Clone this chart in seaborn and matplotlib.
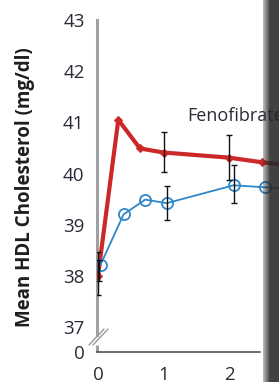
import numpy as np
import pandas as pd
import matplotlib
matplotlib.use("Agg")
import matplotlib.pyplot as plt
import seaborn as sns

# years since randomisation
feno_x = [0.0, 0.31, 0.64, 1.0, 2.0, 2.5, 3.0]
feno_y = [38.0, 41.05, 40.49, 40.41, 40.31, 40.22, 40.15]
feno_err_x = [0.0, 1.0, 2.0]
feno_err_y = [38.05, 40.42, 40.31]
feno_err = [0.42, 0.40, 0.44]

plac_x = [0.04, 0.39, 0.72, 1.05, 2.07, 2.55, 3.05]
plac_y = [38.22, 39.2, 39.49, 39.42, 39.77, 39.73, 39.70]
plac_err_x = [0.02, 1.05, 2.07]
plac_err_y = [38.1, 39.43, 39.79]
plac_err = [0.2, 0.33, 0.37]

y_ticks = [37, 38, 39, 40, 41, 42, 43]
x_ticks = [0, 1, 2]

RED = "#cc2828"
BLUE = "#2f86c9"
TXT = "#2a2a38"

sns.set_style("white")
plt.rcParams["font.family"] = ["Open Sans", "DejaVu Sans"]

W, H = 279, 382
fig = plt.figure(figsize=(W / 100, H / 100), dpi=100)

# axes: left spine at 97px, bottom at 352px
ax = fig.add_axes([97 / W, (H - 352) / H, (W - 97) / W, 342 / H])
ybot = 37 - 25 / 51.17
ax.set_ylim(ybot, 43 + 10 / 51.17)
ax.set_xlim(-1 / 65.5, (W - 98) / 65.5)

feno = pd.DataFrame({"x": feno_x, "y": feno_y})
plac = pd.DataFrame({"x": plac_x, "y": plac_y})

ax.errorbar(feno_err_x, feno_err_y, yerr=feno_err, fmt="none", ecolor="#111111",
            elinewidth=1.0, capsize=2.5, capthick=1.0, zorder=4)
ax.errorbar(plac_err_x, plac_err_y, yerr=plac_err, fmt="none", ecolor="#111111",
            elinewidth=1.0, capsize=2.5, capthick=1.0, zorder=4)

sns.lineplot(data=feno, x="x", y="y", ax=ax, color=RED, linewidth=3.0,
             marker="D", markersize=4.5, markeredgecolor=RED, zorder=3, sort=False)
sns.lineplot(data=plac, x="x", y="y", ax=ax, color=BLUE, linewidth=1.3,
             marker="o", markersize=8, markerfacecolor="none",
             markeredgecolor=BLUE, markeredgewidth=1.3, zorder=3, sort=False)

ax.text(1.37, 41.12, "Fenofibrate", fontsize=13, color=TXT, va="center", ha="left")

# spines
for s in ["top", "right"]:
    ax.spines[s].set_visible(False)
ax.spines["left"].set_color("#a0a0a0")
ax.spines["left"].set_linewidth(2.2)
ax.spines["left"].set_bounds(37 - 8 / 51.17, 43)
ax.spines["bottom"].set_color("#444444")
ax.spines["bottom"].set_linewidth(1.1)
ax.spines["bottom"].set_bounds(-1 / 65.5, (260 - 98) / 65.5)

# lower piece of the broken y-axis and the break marks
ax.plot([-1 / 65.5, -1 / 65.5], [ybot, ybot + 7 / 51.17], color="#a0a0a0",
        linewidth=2.2, clip_on=False, solid_capstyle="butt")
for dx in [0, 4]:
    ax.plot([(-9 + dx) / 65.5, (6 + dx) / 65.5],
            [ybot + 7 / 51.17, ybot + 23 / 51.17],
            color="#999999", linewidth=1.0, clip_on=False)

ax.set_yticks(y_ticks + [ybot])
ax.set_yticklabels([str(v) for v in y_ticks] + ["0"])
ax.set_xticks(x_ticks)
ax.set_xticklabels([str(v) for v in x_ticks])
ax.tick_params(axis="both", direction="out", length=7, width=1.0, color="#444444",
               labelsize=13.5, labelcolor=TXT, pad=2)
ax.tick_params(axis="x", length=7, pad=3)
ax.set_xlabel("")
ax.set_ylabel("")

fig.text(25 / W, 1 - 187 / H, "Mean HDL Cholesterol (mg/dl)", rotation=90,
         fontsize=13.5, fontweight="bold", color="#1e1e1e", ha="center", va="center")

# dark shaded edge on the right
band = fig.add_axes([263 / W, 0, 16 / W, 1])
alpha = np.clip(np.linspace(0.3, 1.6, 64), 0, 0.88)
rgba = np.zeros((1, 64, 4))
rgba[..., 3] = alpha
rgba[..., :3] = 0.15
band.imshow(rgba, aspect="auto", extent=[0, 1, 0, 1])
band.axis("off")

fig.savefig("out.png", dpi=100)
